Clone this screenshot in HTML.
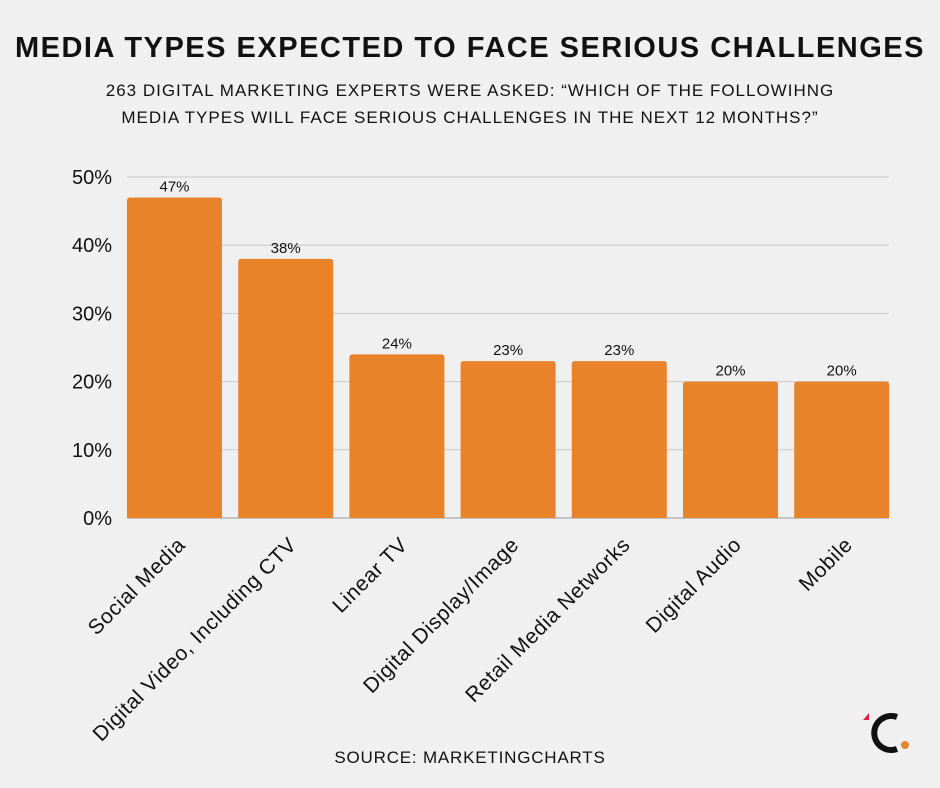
<!DOCTYPE html>
<html><head><meta charset="utf-8"><style>
body{margin:0;background:#f0f0f0;width:940px;height:788px;overflow:hidden;font-family:"Liberation Sans",sans-serif;}
svg{display:block}
</style></head><body>
<svg width="940" height="788">
<text x="470" y="57" text-anchor="middle" font-size="29" font-weight="bold" letter-spacing="1.5" fill="#111">MEDIA TYPES EXPECTED TO FACE SERIOUS CHALLENGES</text>
<text x="470" y="96" text-anchor="middle" font-size="17" letter-spacing="1" fill="#111">263 DIGITAL MARKETING EXPERTS WERE ASKED: “WHICH OF THE FOLLOWIHNG</text>
<text x="470" y="123" text-anchor="middle" font-size="17" letter-spacing="1" fill="#111">MEDIA TYPES WILL FACE SERIOUS CHALLENGES IN THE NEXT 12 MONTHS?”</text>
<g id="grid"></g><g id="bars"></g><g id="xl"></g>
<text x="470" y="763" text-anchor="middle" font-size="17" letter-spacing="0.8" fill="#111">SOURCE: MARKETINGCHARTS</text>
<g>
<path d="M897 717 A17 17 0 1 0 897 749" fill="none" stroke="#111" stroke-width="6"/>
<polygon points="863,720 869,713 869,720" fill="#e0203a"/>
<circle cx="905" cy="745" r="4" fill="#e8832a"/>
</g>
</svg>
<script>
const categories=["Social Media","Digital Video, Including CTV","Linear TV","Digital Display/Image","Retail Media Networks","Digital Audio","Mobile"];
const values=[47,38,24,23,23,20,20];
const ticks=[0,10,20,30,40,50];
const NS="http://www.w3.org/2000/svg";
const x0=127,step=111.2,bw=95,y0=518,pp=6.82;
const y=v=>y0-v*pp, x=i=>x0+i*step;
function mk(t,a,p){const e=document.createElementNS(NS,t);for(const k in a)e.setAttribute(k,a[k]);p.appendChild(e);return e;}
const g=document.getElementById('grid'),b=document.getElementById('bars'),xl=document.getElementById('xl');
ticks.forEach(t=>{
 const l=mk('line',{x1:x0,x2:889,y1:y(t),y2:y(t),stroke:t?'#c8c8c8':'#999','stroke-width':1},g);
 
 
 const tx=mk('text',{x:112,y:y(t)+7,'text-anchor':'end','font-size':20,fill:'#111'},g);
 tx.textContent=t+'%';
 
 
});
values.forEach((v,i)=>{
 const r=mk('path',{d:`M${x(i)} ${y0}V${y(v)+3}Q${x(i)} ${y(v)} ${x(i)+3} ${y(v)}H${x(i)+bw-3}Q${x(i)+bw} ${y(v)} ${x(i)+bw} ${y(v)+3}V${y0}Z`,fill:'#e8832a'},b);
 
 
 const t=mk('text',{x:x(i)+bw/2,y:y(v)-6,'text-anchor':'middle','font-size':15,fill:'#111'},b);
 t.textContent=v+'%';
 
 
 const cx=x(i)+bw/2+12,cy=546;
 const c=mk('text',{x:cx,y:cy,'text-anchor':'end','font-size':21,'letter-spacing':0.6,fill:'#111',transform:`rotate(-45 ${cx} ${cy})`},xl);
 c.textContent=categories[i];
 
 
});
</script>
</body></html>
